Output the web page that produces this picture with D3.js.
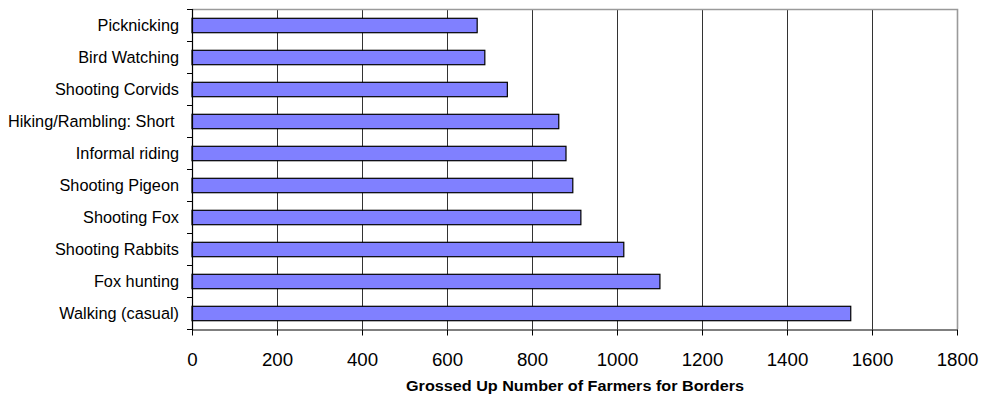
<!DOCTYPE html>
<html>
<head>
<meta charset="utf-8">
<script src="https://cdn.jsdelivr.net/npm/d3@7"></script>
<style>
  html, body { margin: 0; padding: 0; background: #fff; }
  svg { display: block; }
  text { font-family: "Liberation Sans", Arial, sans-serif; fill: #000; white-space: pre; }
</style>
</head>
<body>
<svg id="chart" width="981" height="399"></svg>
<script>
// Activities, listed top to bottom
const categories = [
  "Picknicking",
  "Bird Watching",
  "Shooting Corvids",
  "Hiking/Rambling: Short ",
  "Informal riding",
  "Shooting Pigeon",
  "Shooting Fox",
  "Shooting Rabbits",
  "Fox hunting",
  "Walking (casual)"
];
// Grossed up number of farmers per activity
const farmers = [671, 689, 742, 863, 880, 896, 915, 1016, 1101, 1550];
const xTicks = [0, 200, 400, 600, 800, 1000, 1200, 1400, 1600, 1800];
const xTitle = "Grossed Up Number of Farmers for Borders";

const svg = d3.select("#chart");
const plot = { left: 192, right: 957, top: 9, bottom: 329 };

const x = d3.scaleLinear().domain([0, 1800]).range([plot.left, plot.right]);
const y = d3.scaleBand().domain(categories).range([plot.top, plot.bottom]).padding(0);
const barH = y.bandwidth() * 0.45;

// vertical gridlines
svg.append("g")
  .selectAll("line")
  .data(xTicks.filter(t => t > 0 && t < 1800))
  .join("line")
  .attr("x1", d => Math.round(x(d)) + 0.5)
  .attr("x2", d => Math.round(x(d)) + 0.5)
  .attr("y1", plot.top)
  .attr("y2", plot.bottom)
  .attr("stroke", "#333")
  .attr("stroke-width", 1);

// top and right frame
svg.append("path")
  .attr("d", `M${plot.left},${plot.top + 0.5}H${plot.right + 0.5}V${plot.bottom}`)
  .attr("fill", "none")
  .attr("stroke", "#9a9a9a")
  .attr("stroke-width", 1.6);

// bars
svg.append("g")
  .selectAll("rect")
  .data(categories.map((c, i) => ({ c, v: farmers[i] })))
  .join("rect")
  .attr("x", x(0))
  .attr("y", d => y(d.c) + (y.bandwidth() - barH) / 2 + 0.5)
  .attr("width", d => x(d.v) - x(0))
  .attr("height", barH)
  .attr("fill", "#8080ff")
  .attr("stroke", "#000")
  .attr("stroke-width", 1.2);

// x axis
const xAxis = svg.append("g")
  .attr("transform", `translate(0,${plot.bottom + 0.5})`)
  .call(d3.axisBottom(x).tickValues(xTicks).tickFormat(d3.format("d"))
    .tickSize(6).tickSizeOuter(0).tickPadding(17));
xAxis.select(".domain").attr("stroke", "#000").attr("stroke-width", 1.2);
xAxis.selectAll(".tick line").attr("stroke", "#000");
xAxis.selectAll("text")
  .attr("font-family", '"Liberation Sans", Arial, sans-serif')
  .attr("font-size", "18.7px")
  .attr("fill", "#000");

// y axis: ticks at band boundaries, labels at band centres
const yAxisG = svg.append("g");
yAxisG.append("line")
  .attr("x1", plot.left + 0.5).attr("x2", plot.left + 0.5)
  .attr("y1", plot.top).attr("y2", plot.bottom + 1)
  .attr("stroke", "#000").attr("stroke-width", 1.2);
const bounds = categories.map(c => y(c)).concat([plot.bottom]);
yAxisG.selectAll("line.tk")
  .data(bounds)
  .join("line")
  .attr("class", "tk")
  .attr("x1", plot.left - 5).attr("x2", plot.left)
  .attr("y1", d => Math.round(d) + 0.5).attr("y2", d => Math.round(d) + 0.5)
  .attr("stroke", "#000");
yAxisG.selectAll("text")
  .data(categories)
  .join("text")
  .attr("x", 179)
  .attr("y", d => y(d) + y.bandwidth() / 2 + 0.5)
  .attr("text-anchor", "end")
  .attr("dy", "0.35em")
  .attr("font-size", "16.3px")
  .text(d => d);

// x axis title
svg.append("text")
  .attr("x", 575)
  .attr("y", 391)
  .attr("text-anchor", "middle")
  .attr("font-size", "14px")
  .attr("font-weight", "bold")
  .attr("textLength", 338)
  .attr("lengthAdjust", "spacingAndGlyphs")
  .text(xTitle);
</script>
</body>
</html>
